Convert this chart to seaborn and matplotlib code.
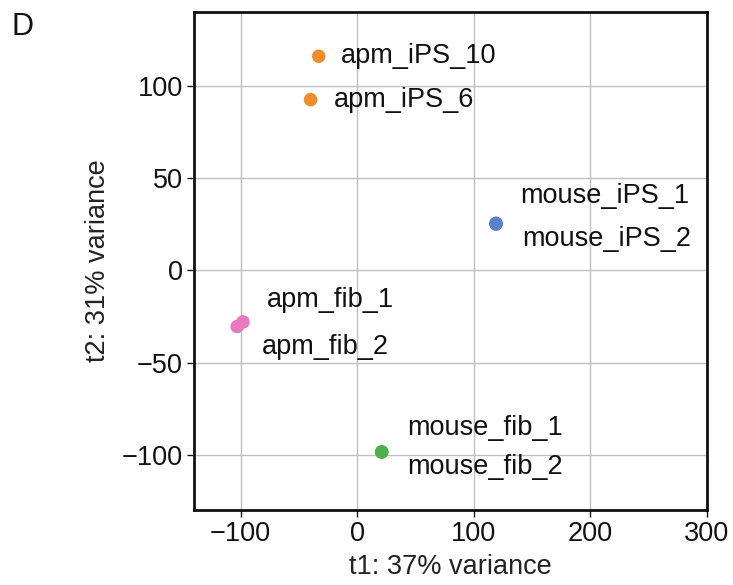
import matplotlib
matplotlib.use("Agg")
import matplotlib.pyplot as plt
import seaborn as sns
import pandas as pd

samples = ["apm_iPS_10", "apm_iPS_6", "mouse_iPS_1", "mouse_iPS_2",
           "apm_fib_1", "apm_fib_2", "mouse_fib_1", "mouse_fib_2"]
groups = ["apm_iPS", "apm_iPS", "mouse_iPS", "mouse_iPS",
          "apm_fib", "apm_fib", "mouse_fib", "mouse_fib"]
t1 = [-33, -40, 119, 119, -98, -103, 21, 21]
t2 = [116, 92.5, 25.5, 25, -28, -30.5, -98.5, -98.5]

palette = {"apm_iPS": "#f28c2a", "mouse_iPS": "#5b80cc",
           "apm_fib": "#e878bf", "mouse_fib": "#4cb04c"}
# label offsets in pixels (dx, dy)
offsets = [(22, 0), (23, 0), (24, 27), (26, -15),
           (24, 22), (25, -20), (25, 24), (25, -15)]

df = pd.DataFrame({"sample": samples, "group": groups, "t1": t1, "t2": t2})

sns.set_style("whitegrid")
plt.rcParams["font.family"] = ["Liberation Sans", "DejaVu Sans"]

FS = 19.5
fig = plt.figure(figsize=(7.33, 5.85), dpi=100)
ax = fig.add_axes([0.2647, 0.128, 0.6998, 0.8515])
sns.scatterplot(data=df, x="t1", y="t2", hue="group", palette=palette,
                s=95, edgecolor="none", legend=False, ax=ax, zorder=3)

for name, x, y, (dx, dy) in zip(samples, t1, t2, offsets):
    ax.annotate(name, (x, y), xytext=(dx, dy), textcoords="offset pixels",
                ha="left", va="center", fontsize=FS, color="#111111")

ax.set_xlim(-140, 300)
ax.set_ylim(-130, 140)
ax.set_xticks([-100, 0, 100, 200, 300])
ax.set_yticks([-100, -50, 0, 50, 100])
ax.set_xlabel("t1: 37% variance", fontsize=FS, color="#222222", labelpad=5)
ax.set_ylabel("t2: 31% variance", fontsize=FS, color="#222222", labelpad=8)
ax.tick_params(axis="both", labelsize=FS, colors="#111111", length=5,
               width=1, direction="out", left=True, bottom=True, pad=3)
ax.grid(True, color="#c0c0c0", linewidth=1)
for sp in ax.spines.values():
    sp.set_color("#111111")
    sp.set_linewidth(2)

fig.text(0.016, 0.953, "D", fontsize=22, ha="left", va="center", color="#111111")

fig.savefig("out.png", dpi=100, facecolor="white")
